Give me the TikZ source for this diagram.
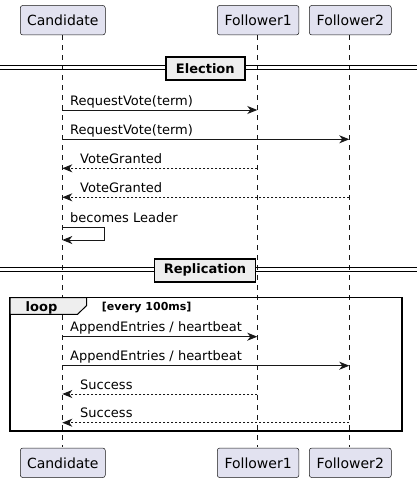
\documentclass[tikz,border=0pt]{standalone}
\usepackage{fontspec}
\setmainfont{DejaVu Sans}
\usetikzlibrary{arrows.meta}
\definecolor{partfill}{HTML}{E2E2F0}
\definecolor{ink}{HTML}{181818}
\definecolor{divfill}{HTML}{EEEEEE}
\tikzset{
  part/.style={draw=ink, line width=0.5pt, fill=partfill, rounded corners=2.5pt,
    minimum height=29.5pt, inner sep=0pt, font=\fontsize{14}{16}\selectfont, text=black},
  life/.style={draw=ink, line width=0.5pt, dash pattern=on 5pt off 5pt},
  msg/.style={draw=ink, line width=1pt, -{Stealth[length=10pt,width=8pt,inset=3pt]}},
  reply/.style={msg, dash pattern=on 2pt off 2pt},
  lbl/.style={anchor=base west, inner sep=0pt, font=\fontsize{13}{15}\selectfont, text=black},
  divbox/.style={draw=black, line width=1.5pt, fill=divfill, inner sep=0pt,
    font=\bfseries\fontsize{13}{15}\selectfont, text=black},
  divline/.style={draw=black, line width=1pt},
}
\begin{document}
\begin{tikzpicture}[x=1pt,y=-1pt]
\useasboundingbox (0,0) rectangle (417,483);
% participants
\node[part, minimum width=85pt] (cT) at (62.8,20.2) {Candidate};
\node[part, minimum width=81.7pt] (f1T) at (258.1,20.2) {Follower1};
\node[part, minimum width=82pt] (f2T) at (350.3,20.2) {Follower2};
\node[part, minimum width=85pt] (cB) at (62.8,462.8) {Candidate};
\node[part, minimum width=81.7pt] (f1B) at (258.1,462.8) {Follower1};
\node[part, minimum width=82pt] (f2B) at (350.3,462.8) {Follower2};
% lifelines
\draw[life] (62.3,35) coordinate (cl0) -- (62.3,447.3) coordinate (cl1);
\draw[life] (257.3,35) coordinate (f1l0) -- (257.3,447.3) coordinate (f1l1);
\draw[life] (349.3,35) coordinate (f2l0) -- (349.3,447.3) coordinate (f2l1);
% Election divider
\coordinate (eL) at (0,65.5); \coordinate (eR) at (417,65.5);
\coordinate (eL2) at (0,69.8); \coordinate (eR2) at (417,69.8);
\draw[divline] (eL) -- (eR);
\draw[divline] (eL2) -- (eR2);
\node[divbox, minimum width=79pt, minimum height=23pt] (elec) at (205.3,68.3) {Election};
% messages
\coordinate (a1) at (62.3,110); \coordinate (b1) at (257.3,110);
\draw[msg] (a1) -- (b1);
\node[lbl] (t1) at (70,105) {RequestVote(term)};
\coordinate (a2) at (62.3,139.3); \coordinate (b2) at (349.3,139.3);
\draw[msg] (a2) -- (b2);
\node[lbl] (t2) at (70,134.3) {RequestVote(term)};
\coordinate (a3) at (257.3,168.3); \coordinate (b3) at (62.3,168.3);
\draw[reply] (a3) -- (b3);
\node[lbl] (t3) at (80,163.5) {VoteGranted};
\coordinate (a4) at (349.3,197.3); \coordinate (b4) at (62.3,197.3);
\draw[reply] (a4) -- (b4);
\node[lbl] (t4) at (80,192.5) {VoteGranted};
\coordinate (a5) at (62.3,227.3); \coordinate (b5) at (62.3,240);
\draw[msg] (a5) -- (104.7,227.3) -- (104.7,240) -- (b5);
\node[lbl] (t5) at (70,222) {becomes Leader};
% Replication divider
\coordinate (rL) at (0,267.3); \coordinate (rR) at (417,267.3);
\coordinate (rL2) at (0,271.5); \coordinate (rR2) at (417,271.5);
\draw[divline] (rL) -- (rR);
\draw[divline] (rL2) -- (rR2);
\node[divbox, minimum width=101.4pt, minimum height=23pt] (repl) at (205,270.3) {Replication};
% loop frame
\draw[draw=black, line width=1.5pt] (10,297.7) rectangle (402,431);
\draw[draw=black, line width=1pt, fill=divfill] (10,297.7) -- (86.7,297.7) -- (86.7,305.5) -- (77.5,314.3) -- (10,314.3) -- cycle;
\draw[draw=black, line width=1.5pt] (10,297.7) -- (402,297.7);
\node[anchor=base, inner sep=0pt, font=\bfseries\fontsize{13}{15}\selectfont] (lp) at (41.5,311) {loop};
\node[anchor=base west, inner sep=0pt, font=\bfseries\fontsize{11}{13}\selectfont] (guard) at (101.7,310) {[every 100ms]};
\coordinate (a6) at (62.3,336.7); \coordinate (b6) at (257.3,336.7);
\draw[msg] (a6) -- (b6);
\node[lbl] (t6) at (70,331.7) {AppendEntries / heartbeat};
\coordinate (a7) at (62.3,365.7); \coordinate (b7) at (349.3,365.7);
\draw[msg] (a7) -- (b7);
\node[lbl] (t7) at (70,360.7) {AppendEntries / heartbeat};
\coordinate (a8) at (257.3,394); \coordinate (b8) at (62.3,394);
\draw[reply] (a8) -- (b8);
\node[lbl] (t8) at (80,389.2) {Success};
\coordinate (a9) at (349.3,422.7); \coordinate (b9) at (62.3,422.7);
\draw[reply] (a9) -- (b9);
\node[lbl] (t9) at (80,417.9) {Success};
\end{tikzpicture}
\end{document}
